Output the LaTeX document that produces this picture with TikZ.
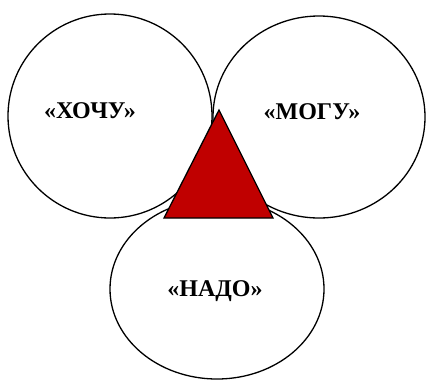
\documentclass[tikz,border=0pt]{standalone}
\usepackage{fontspec}
\setmainfont{Liberation Serif}
\definecolor{trired}{RGB}{192,0,0}
\begin{document}
\begin{tikzpicture}[x=1pt, y=-1pt, line width=1.3pt,
    label/.style={font=\fontsize{24}{28}\selectfont\bfseries, inner sep=0pt}]
            \useasboundingbox (0, 0) rectangle (427, 380);

            % Circles
            \draw (110, 116) ellipse [x radius=102, y radius=102];
            \draw (319, 117) ellipse [x radius=106, y radius=101];
            \draw (217, 289) ellipse [x radius=107, y radius=90];

            % Triangle
            \coordinate (apex) at (219, 110);
            \coordinate (baseL) at (164, 218);
            \coordinate (baseR) at (273, 218);
            \draw[fill=trired, line join=miter] (apex) -- (baseL) -- (baseR) -- cycle;

            % Labels
            \node[label] (want) at (90, 111) {«ХОЧУ»};
            \node[label] (can) at (312, 112) {«МОГУ»};
            \node[label] (need) at (215, 291) {«НАДО»};
\end{tikzpicture}
\end{document}
